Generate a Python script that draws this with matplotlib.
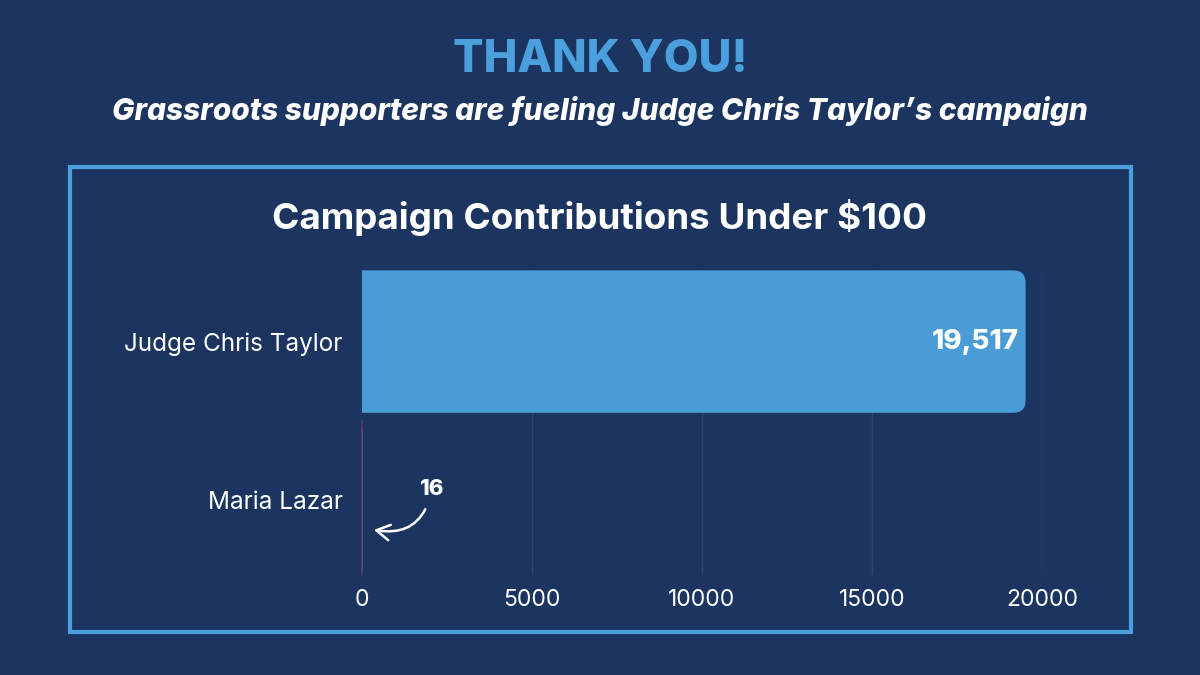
import matplotlib.pyplot as plt
from matplotlib.patches import FancyBboxPatch

# Data
candidates = ['Maria Lazar', 'Judge Chris Taylor']
contributions = [16, 19517]
value_labels = ['16', '19,517']
x_ticks = [0, 5000, 10000, 15000, 20000]

bg = '#1b3560'
bar_blue = '#4a9cd7'
accent = '#4a9fdc'

plt.rcParams['font.family'] = ['Inter', 'DejaVu Sans']

fig = plt.figure(figsize=(12, 6.75), dpi=100)
fig.patch.set_facecolor(bg)

# Headings
fig.text(0.5, 1 - 60 / 675, 'THANK YOU!', ha='center', va='center',
         fontsize=32.5, fontweight='heavy', color=accent)
fig.text(0.5, 1 - 111 / 675, 'Grassroots supporters are fueling Judge Chris Taylor\u2019s campaign',
         ha='center', va='center', fontsize=21.5, fontweight='heavy', style='italic', color='white')

# Frame around the chart
fig.patches.append(plt.Rectangle((70 / 1200, 1 - 632 / 675), (1131 - 70) / 1200, (632 - 167) / 675,
                                 transform=fig.transFigure, fill=False, edgecolor=accent, linewidth=3))

fig.text(600 / 1200, 1 - 218 / 675, 'Campaign Contributions Under $100', ha='center', va='center',
         fontsize=26.5, fontweight='bold', color='white')

ax = fig.add_axes([362 / 1200, 1 - 575 / 675, 680 / 1200, (575 - 268) / 675])
ax.set_facecolor(bg)
ax.set_xlim(0, 20000)
ax.set_ylim(-0.475, 1.465)

ypos = list(range(len(candidates)))
bars = ax.barh(ypos, contributions, height=0.9, color=bar_blue, zorder=2)

# rounded right corners for the big bar (left side pushed past the axis and clipped square)
b = bars[1]
b.set_visible(False)
x0, y0, w, h = b.get_x(), b.get_y(), b.get_width(), b.get_height()
ax.add_patch(FancyBboxPatch((x0 - 1000, y0), w + 1000, h, boxstyle='round,pad=0,rounding_size=360',
                            mutation_aspect=0.076 / 360, facecolor=bar_blue, edgecolor='none', zorder=2))

# zero line
ax.plot([0, 0], [-0.475, 0.5], color='#5b3a63', linewidth=1.2, zorder=3, clip_on=False)

for x in x_ticks[1:]:
    ax.plot([x, x], [-0.475, 1.45], color='#2d4670', linewidth=1, zorder=1)

ax.text(contributions[1] - 200, 1, value_labels[1], ha='right', va='center',
        fontsize=20, fontweight='heavy', color='white', zorder=4)

ax.annotate(value_labels[0], xy=(350, -0.19), xytext=(2050, 0.07),
            ha='center', va='center', fontsize=16, fontweight='heavy', color='white',
            arrowprops=dict(arrowstyle='->,head_width=0.35,head_length=0.6', color='white', lw=1.8,
                            connectionstyle='arc3,rad=-0.5', shrinkA=6, shrinkB=0))

ax.set_yticks(ypos)
ax.set_yticklabels(candidates, fontsize=17.5, color='white')
ax.set_xticks(x_ticks)
ax.set_xticklabels([str(t) for t in x_ticks], fontsize=16.5, color='white')
ax.tick_params(axis='both', length=0)
ax.tick_params(axis='y', pad=14)
ax.tick_params(axis='x', pad=10)
for s in ax.spines.values():
    s.set_visible(False)

fig.savefig('out.png', dpi=100, facecolor=bg)
